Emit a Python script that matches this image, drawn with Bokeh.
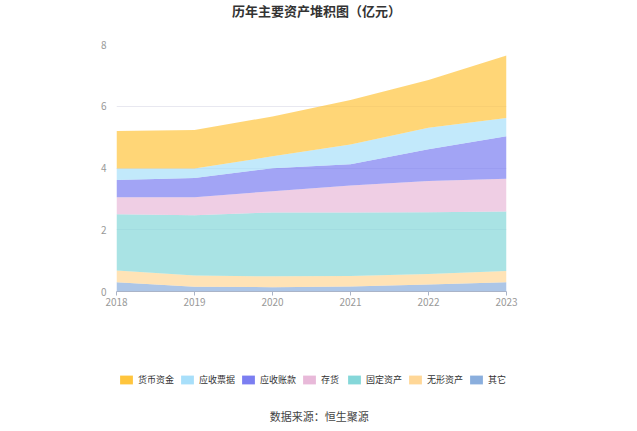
from bokeh.plotting import figure
from bokeh.models import Legend, LegendItem, FixedTicker, ColumnDataSource, Range1d
from bokeh.layouts import column
from bokeh.core.properties import value
from bokeh.embed import file_html
from bokeh.resources import INLINE

years = [2018, 2019, 2020, 2021, 2022, 2023]
series_names = ["其它", "无形资产", "固定资产", "存货", "应收账款", "应收票据", "货币资金"]
qita = [0.30, 0.15, 0.14, 0.16, 0.23, 0.30]
wuxing = [0.38, 0.37, 0.35, 0.34, 0.34, 0.36]
guding = [1.82, 1.95, 2.07, 2.06, 2.00, 1.93]
cunhuo = [0.55, 0.58, 0.69, 0.87, 1.01, 1.06]
zhangkuan = [0.56, 0.63, 0.74, 0.69, 1.03, 1.38]
piaoju = [0.37, 0.30, 0.39, 0.64, 0.69, 0.59]
huobi = [1.22, 1.25, 1.29, 1.44, 1.55, 2.02]
colors = ["#8AAEDD", "#FFD797", "#85D7D9", "#E8B9D9", "#7B7EF1", "#A8DFFA", "#FFC53D"]
y_ticks = [0, 2, 4, 6, 8]
title_text = "历年主要资产堆积图（亿元）"
source_text = "数据来源：恒生聚源"

FONT = "Noto Sans CJK SC"

src = ColumnDataSource(dict(x=years, s0=qita, s1=wuxing, s2=guding, s3=cunhuo,
                            s4=zhangkuan, s5=piaoju, s6=huobi))
keys = ["s0", "s1", "s2", "s3", "s4", "s5", "s6"]


def strip(h, y0, y1):
    f = figure(width=621, height=h, output_backend="svg", toolbar_location=None,
               x_range=Range1d(0, 1), y_range=Range1d(y0, y1),
               min_border_left=116, min_border_right=115, min_border_top=0, min_border_bottom=0)
    f.axis.visible = False
    f.grid.visible = False
    f.outline_line_color = None
    return f


# title strip
p0 = strip(24, 0, 1)
p0.text(x=[0.513], y=[0.58], text=[title_text], text_font=value(FONT),
        text_font_size="13px", text_font_style="bold", text_color="#333333",
        text_align="center", text_baseline="middle")

# main chart
p = figure(width=621, height=296, output_backend="svg", toolbar_location=None,
           x_range=Range1d(years[0], years[-1]), y_range=Range1d(0, 8),
           min_border_left=116, min_border_right=115, min_border_top=20, min_border_bottom=29)
p.outline_line_color = None

rs = p.varea_stack(stackers=keys, x="x", source=src, color=colors, fill_alpha=0.7)

p.xgrid.grid_line_color = None
p.ygrid.grid_line_color = "#E8E8F0"
p.ygrid.ticker = FixedTicker(ticks=y_ticks)

p.yaxis.ticker = FixedTicker(ticks=y_ticks)
p.yaxis.axis_line_color = None
p.yaxis.major_tick_line_color = None
p.yaxis.minor_tick_line_color = None
p.yaxis.major_label_text_color = "#999999"
p.yaxis.major_label_text_font_size = "10px"
p.yaxis.major_label_text_font = FONT
p.yaxis.major_label_standoff = 4

p.xaxis.ticker = FixedTicker(ticks=years)
p.xaxis.axis_line_color = "#AAB4C8"
p.xaxis.major_tick_line_color = "#AAB4C8"
p.xaxis.major_tick_in = 0
p.xaxis.major_tick_out = 4
p.xaxis.minor_tick_line_color = None
p.xaxis.major_label_text_color = "#999999"
p.xaxis.major_label_text_font_size = "10px"
p.xaxis.major_label_text_font = FONT
p.xaxis.major_label_standoff = 2

# legend + source strip
p2 = strip(105, 10, 11)
rs2 = p2.varea_stack(stackers=keys, x="x", source=src, color=colors, fill_alpha=1.0)

items = [LegendItem(label=series_names[i], renderers=[rs2[i]]) for i in range(6, -1, -1)]
legend = Legend(items=items, orientation="horizontal", location=(2, 39),
                glyph_width=16, glyph_height=11, label_text_font_size="9px",
                label_text_font=FONT, label_text_color="#333333",
                spacing=5, label_standoff=4, padding=0, margin=0,
                label_height=11,
                border_line_color=None, background_fill_alpha=0)
p2.add_layout(legend, "center")

p2.text(x=[0.52], y=[10.095], text=[source_text], text_font=value(FONT),
        text_font_size="11px", text_color="#444444", text_align="center",
        text_baseline="middle")

open("out.html", "w").write(file_html(column(p0, p, p2, spacing=0), INLINE))
